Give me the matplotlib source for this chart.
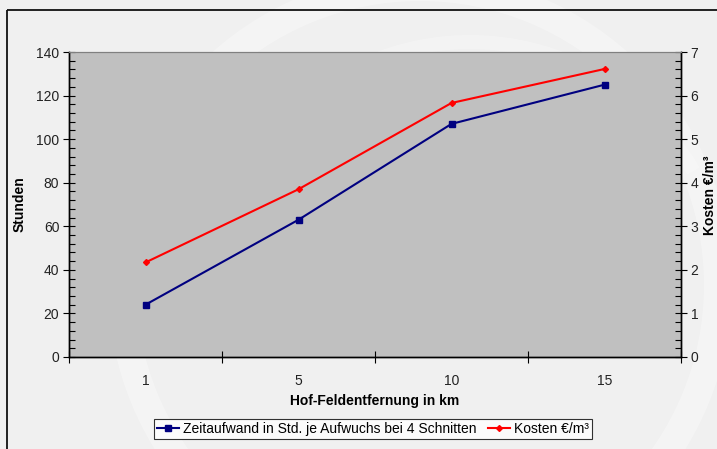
import matplotlib
matplotlib.use("Agg")
import matplotlib.pyplot as plt
from matplotlib.patches import Rectangle, Wedge
from matplotlib.ticker import MultipleLocator, FixedLocator, NullFormatter

plt.rcParams["font.family"] = ["Liberation Sans", "DejaVu Sans"]

# Daten
entfernung = ["1", "5", "10", "15"]
zeitaufwand = [24, 63, 107, 125]          # Stunden
kosten = [2.17, 3.85, 5.83, 6.61]         # €/m³

W, H = 717, 449
fig = plt.figure(figsize=(W / 100, H / 100), dpi=100)
fig.patch.set_facecolor("#f0f0f0")

# Hintergrund mit Rahmen und heller Schleife
bg = fig.add_axes([0, 0, 1, 1], zorder=-10)
bg.set_xlim(0, W)
bg.set_ylim(H, 0)
bg.axis("off")
bg.add_patch(Wedge((420, 285), 312, 0, 360, width=28,
                   facecolor="white", edgecolor="none", alpha=0.3))
bg.add_patch(Wedge((470, 300), 265, 200, 330, width=14,
                   facecolor="white", edgecolor="none", alpha=0.25))
bg.add_patch(Rectangle((7, 10), 800, 500, fill=False,
                       edgecolor="#111111", linewidth=1.3))

ax = fig.add_axes([69 / W, 1 - 357 / H, 612 / W, 305 / H])
ax.set_facecolor("#c0c0c0")
x = range(len(entfernung))

l1, = ax.plot(x, zeitaufwand, color="#000080", linewidth=1.5,
              marker="s", markersize=4.5, label="Zeitaufwand in Std. je Aufwuchs bei 4 Schnitten")
ax.set_xlim(-0.5, len(entfernung) - 0.5)
ax.set_ylim(0, 140)
ax.yaxis.set_major_locator(MultipleLocator(20))
ax.yaxis.set_minor_locator(MultipleLocator(4))

# Kategorienachse: Striche zwischen den Kategorien, Beschriftung in der Mitte
ax.xaxis.set_major_locator(FixedLocator([i - 0.5 for i in range(len(entfernung) + 1)]))
ax.xaxis.set_major_formatter(NullFormatter())
ax.xaxis.set_minor_locator(FixedLocator(list(x)))
ax.set_xticklabels(entfernung, minor=True)
ax.tick_params(axis="x", which="major", direction="inout", length=8, width=0.8)
ax.tick_params(axis="x", which="minor", length=0, pad=12, labelsize=10, labelcolor="#222222")
ax.tick_params(axis="y", which="major", direction="inout", length=8, width=0.8,
               labelsize=10, pad=3, labelcolor="#222222")
ax.tick_params(axis="y", which="minor", direction="in", length=4, width=0.8)

ax2 = ax.twinx()
l2, = ax2.plot(x, kosten, color="#ff0000", linewidth=1.5,
               marker="D", markersize=3, label="Kosten €/m³")
ax2.set_ylim(0, 7)
ax2.yaxis.set_major_locator(MultipleLocator(1))
ax2.yaxis.set_minor_locator(MultipleLocator(0.2))
ax2.tick_params(axis="y", which="major", direction="inout", length=8, width=0.8,
                labelsize=10, pad=3, labelcolor="#222222")
ax2.tick_params(axis="y", which="minor", direction="in", length=4, width=0.8)

for a in (ax, ax2):
    a.spines["top"].set_color("#808080")
    for s in ("left", "right", "bottom"):
        a.spines[s].set_color("black")
        a.spines[s].set_linewidth(1.0)

fig.text(20 / W, 1 - 204 / H, "Stunden", rotation=90, ha="center", va="center",
         fontsize=10, fontweight="bold")
fig.text(710 / W, 1 - 195 / H, "Kosten €/m³", rotation=90, ha="center", va="center",
         fontsize=10, fontweight="bold")
fig.text(375 / W, 1 - 401 / H, "Hof-Feldentfernung in km", ha="center", va="center",
         fontsize=10, fontweight="bold")

leg = fig.legend(handles=[l1, l2], loc="center", bbox_to_anchor=(373 / W, 1 - 429 / H),
                 ncol=2, fontsize=10, frameon=True, fancybox=False,
                 handlelength=1.6, handletextpad=0.3, columnspacing=0.8,
                 borderpad=0.2, borderaxespad=0)
leg.get_frame().set_edgecolor("black")
leg.get_frame().set_facecolor("white")
leg.get_frame().set_linewidth(0.8)

fig.savefig("out.png", dpi=100, facecolor=fig.get_facecolor())
